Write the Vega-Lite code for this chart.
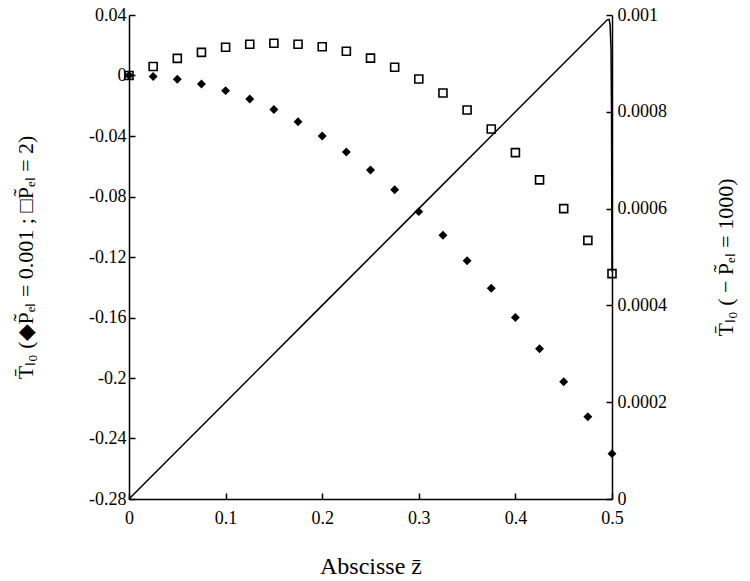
{
  "$schema": "https://vega.github.io/schema/vega-lite/v6.json",
  "autosize": "none",
  "width": 483,
  "height": 484,
  "padding": {"left": 129, "top": 15, "right": 138, "bottom": 82},
  "background": "white",
  "config": {
    "view": {"stroke": null},
    "font": "Liberation Serif",
    "axis": {
      "domainColor": "black", "domainWidth": 1.5, "tickColor": "black", "tickWidth": 1.5,
      "tickSize": -6, "labelPadding": 9, "grid": false, "labelFlush": false,
      "labelFont": "Liberation Serif", "labelFontSize": 18, "labelColor": "black",
      "titleFont": "Liberation Serif", "titleFontSize": 22, "titleFontWeight": "normal", "titleColor": "black"
    }
  },
  "datasets": {
    "pts": [
      {"z": 0, "T": 0, "s": "a"}, {"z": 0.025, "T": -0.0006, "s": "a"}, {"z": 0.05, "T": -0.0025, "s": "a"},
      {"z": 0.075, "T": -0.0056, "s": "a"}, {"z": 0.1, "T": -0.01, "s": "a"}, {"z": 0.125, "T": -0.0156, "s": "a"},
      {"z": 0.15, "T": -0.0225, "s": "a"}, {"z": 0.175, "T": -0.0306, "s": "a"}, {"z": 0.2, "T": -0.04, "s": "a"},
      {"z": 0.225, "T": -0.0506, "s": "a"}, {"z": 0.25, "T": -0.0625, "s": "a"}, {"z": 0.275, "T": -0.0756, "s": "a"},
      {"z": 0.3, "T": -0.09, "s": "a"}, {"z": 0.325, "T": -0.1056, "s": "a"}, {"z": 0.35, "T": -0.1225, "s": "a"},
      {"z": 0.375, "T": -0.1406, "s": "a"}, {"z": 0.4, "T": -0.16, "s": "a"}, {"z": 0.425, "T": -0.1806, "s": "a"},
      {"z": 0.45, "T": -0.2025, "s": "a"}, {"z": 0.475, "T": -0.2256, "s": "a"}, {"z": 0.5, "T": -0.25, "s": "a"},
      {"z": 0, "T": 0, "s": "b"}, {"z": 0.025, "T": 0.006, "s": "b"}, {"z": 0.05, "T": 0.0113, "s": "b"},
      {"z": 0.075, "T": 0.0153, "s": "b"}, {"z": 0.1, "T": 0.0187, "s": "b"}, {"z": 0.125, "T": 0.0207, "s": "b"},
      {"z": 0.15, "T": 0.0213, "s": "b"}, {"z": 0.175, "T": 0.0207, "s": "b"}, {"z": 0.2, "T": 0.019, "s": "b"},
      {"z": 0.225, "T": 0.016, "s": "b"}, {"z": 0.25, "T": 0.0115, "s": "b"}, {"z": 0.275, "T": 0.0055, "s": "b"},
      {"z": 0.3, "T": -0.0023, "s": "b"}, {"z": 0.325, "T": -0.0116, "s": "b"}, {"z": 0.35, "T": -0.0228, "s": "b"},
      {"z": 0.375, "T": -0.0354, "s": "b"}, {"z": 0.4, "T": -0.051, "s": "b"}, {"z": 0.425, "T": -0.069, "s": "b"},
      {"z": 0.45, "T": -0.088, "s": "b"}, {"z": 0.475, "T": -0.109, "s": "b"}, {"z": 0.5, "T": -0.131, "s": "b"}
    ],
    "curve": [
      {"z": 0, "R": 0}, {"z": 0.1, "R": 0.0002}, {"z": 0.2, "R": 0.0004}, {"z": 0.3, "R": 0.0006},
      {"z": 0.4, "R": 0.0008}, {"z": 0.49, "R": 0.00098}, {"z": 0.495, "R": 0.00099}, {"z": 0.497, "R": 0.000991},
      {"z": 0.498, "R": 0.00098}, {"z": 0.499, "R": 0.00093}, {"z": 0.4995, "R": 0.0008}, {"z": 0.5, "R": 0.00047}
    ]
  },
  "layer": [
    {
      "layer": [
        {
          "data": {"name": "pts"},
          "transform": [{"filter": "datum.s == 'a'"}],
          "mark": {"type": "point", "shape": "diamond", "filled": true, "color": "black", "size": 80, "opacity": 1},
          "encoding": {
            "x": {"field": "z", "type": "quantitative"},
            "y": {"field": "T", "type": "quantitative"}
          }
        },
        {
          "data": {"name": "pts"},
          "transform": [{"filter": "datum.s == 'b'"}],
          "mark": {"type": "point", "shape": "square", "filled": false, "color": "black", "size": 64, "strokeWidth": 1.6, "opacity": 1},
          "encoding": {
            "x": {"field": "z", "type": "quantitative",
              "scale": {"domain": [0, 0.5], "nice": false},
              "axis": {"values": [0, 0.1, 0.2, 0.3, 0.4, 0.5], "labelPadding": 16,
                "labelExpr": "datum.value == 0 ? '0' : format(datum.value, '.1~f')",
                "title": "Abscisse z̄", "titleFontSize": 24, "titleX": 241.5, "titleY": 67, "titleBaseline": "middle"}},
            "y": {"field": "T", "type": "quantitative",
              "scale": {"domain": [-0.28, 0.04], "nice": false, "zero": false},
              "axis": {"values": [-0.28, -0.24, -0.2, -0.16, -0.12, -0.08, -0.04, 0, 0.04],
                "labelExpr": "datum.value == 0 ? '0' : (datum.value < 0 ? '-' : '') + format(abs(datum.value), '.2~f')",
                "title": "T̄ₗ₀  (◆P̃ₑₗ = 0.001 ; □P̃ₑₗ = 2)",
                "titleX": -104, "titleY": 242, "titleAngle": -90, "titleAlign": "center", "titleBaseline": "middle"}}
          }
        }
      ]
    },
    {
      "data": {"name": "curve"},
      "mark": {"type": "line", "color": "black", "strokeWidth": 1.5},
      "encoding": {
        "x": {"field": "z", "type": "quantitative", "scale": {"domain": [0, 0.5], "nice": false}},
        "y": {"field": "R", "type": "quantitative",
          "scale": {"domain": [0, 0.001], "nice": false},
          "axis": {"orient": "right", "values": [0, 0.0002, 0.0004, 0.0006, 0.0008, 0.001],
            "labelPadding": 11,
            "labelExpr": "datum.value == 0 ? '0' : format(datum.value, '.4~f')",
            "title": "T̄ₗ₀  ( − P̃ₑₗ = 1000)",
            "titleX": 113, "titleY": 242, "titleAngle": -90, "titleAlign": "center", "titleBaseline": "middle"}}
      }
    }
  ],
  "resolve": {"scale": {"y": "independent"}}
}
